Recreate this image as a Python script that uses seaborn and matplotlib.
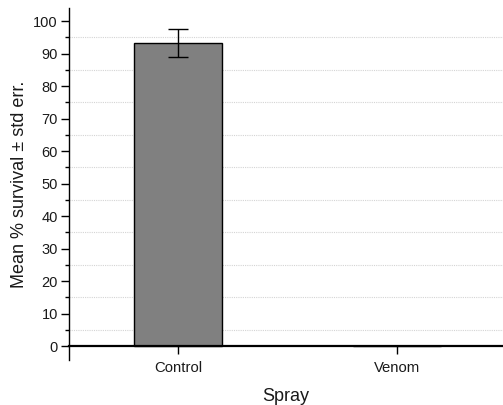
import numpy as np
import pandas as pd
import matplotlib
matplotlib.use("Agg")
import matplotlib.pyplot as plt
import seaborn as sns
from matplotlib.ticker import MultipleLocator

categories = ["Control", "Venom"]
means = [93.2, 0.0]
errors = [4.25, 0.0]

sns.set_theme(style="white")
plt.rcParams['font.family'] = ['Liberation Sans', 'DejaVu Sans']

df = pd.DataFrame({"Spray": categories, "Survival": means})

fig = plt.figure(figsize=(5.03, 4.05), dpi=100)
ax = fig.add_axes([0.137, 0.111, 0.863, 0.869])

sns.barplot(data=df, x="Spray", y="Survival", order=categories, color="#808080",
            saturation=1, edgecolor="black", linewidth=1.0, width=0.4, ax=ax, errorbar=None)
pos = np.arange(len(categories))
ax.errorbar(pos[:1], means[:1], yerr=errors[:1], fmt="none", ecolor="black",
            elinewidth=1.0, capsize=7, capthick=1.0, zorder=5)

ax.set_ylim(-4.3, 104)
ax.set_xlim(-0.498, 1.484)
ax.yaxis.set_major_locator(MultipleLocator(10))
ax.yaxis.set_minor_locator(MultipleLocator(5))
ax.grid(False)
for v in np.arange(5, 100, 10):
    ax.axhline(v, color="#d4d4d4", linestyle=(0, (1, 1)), linewidth=0.8, zorder=0)

ax.spines["top"].set_visible(False)
ax.spines["right"].set_visible(False)
ax.spines["bottom"].set_position(("data", 0))
ax.spines["bottom"].set_linewidth(1.6)
ax.spines["bottom"].set_color("black")
ax.spines["bottom"].set_zorder(10)
ax.spines["left"].set_linewidth(1.0)
ax.spines["left"].set_color("black")

ax.tick_params(axis="y", which="major", direction="out", length=6, width=1, colors="black",
               labelcolor="#1a1a1a", labelsize=10.5, left=True, pad=2)
ax.tick_params(axis="y", which="minor", direction="out", length=3, width=1, colors="black", left=True)
ax.tick_params(axis="x", which="major", direction="out", length=6, width=1, colors="black",
               labelcolor="#1a1a1a", labelsize=10.7, bottom=True, pad=5)

ax.set_xlabel("Spray", fontsize=13, labelpad=9, color="#1a1a1a")
ax.set_ylabel("Mean % survival ± std err.", fontsize=13, labelpad=4, color="#1a1a1a")

fig.savefig("out.png", dpi=100)
